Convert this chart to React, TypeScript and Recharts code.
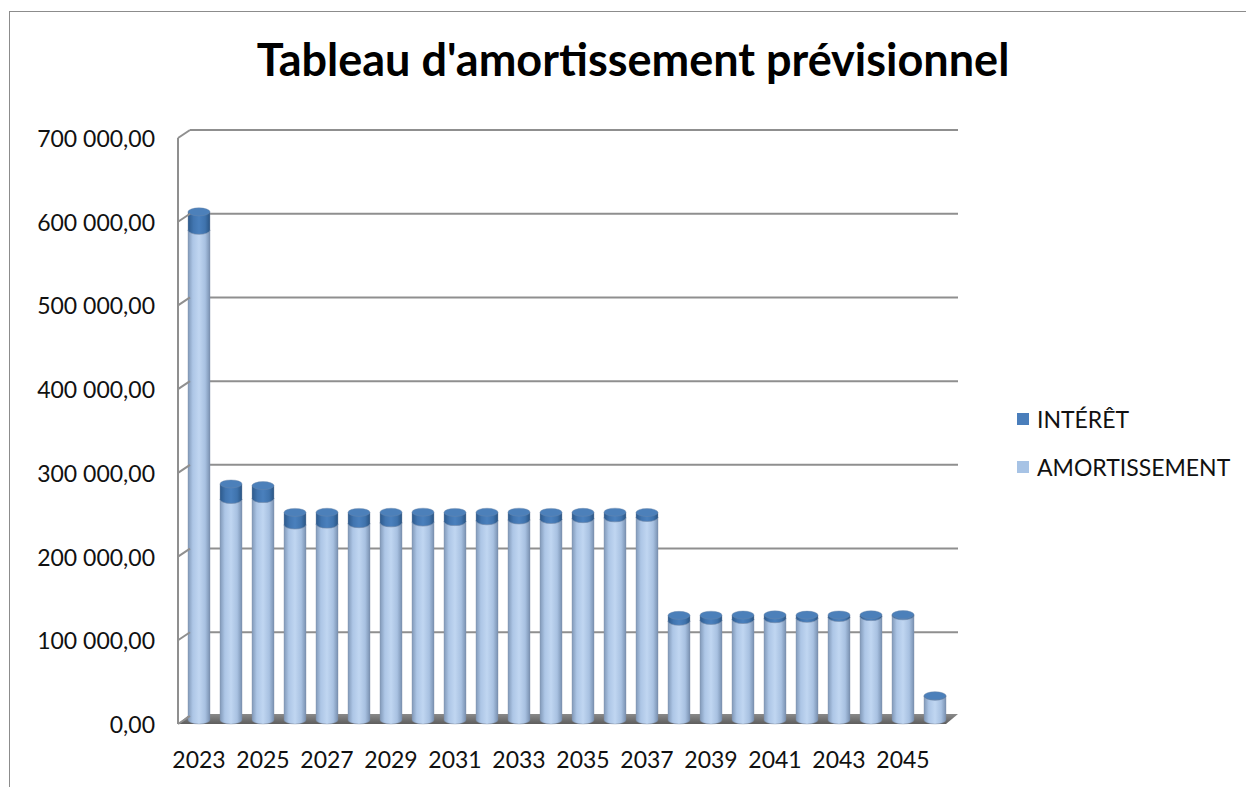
import React from 'react'
import { BarChart, Bar, XAxis, YAxis, CartesianGrid } from 'recharts'

const years = [
  '2023', '2024', '2025', '2026', '2027', '2028', '2029', '2030', '2031', '2032', '2033', '2034',
  '2035', '2036', '2037', '2038', '2039', '2040', '2041', '2042', '2043', '2044', '2045', '2046',
]
const amortissement = [
  585000, 263500, 264500, 233000, 234000, 234500, 235500, 236500, 237000, 238000, 239000, 239500,
  240500, 241500, 242000, 118000, 119000, 120000, 121000, 121500, 122500, 123500, 124500, 28500,
]
const interet = [
  22000, 18500, 15500, 15000, 14200, 13500, 12700, 11800, 11000, 10200, 9300, 8500,
  7600, 6800, 5900, 7000, 6200, 5400, 4600, 3800, 3000, 2200, 1400, 500,
]
const yTicks = [0, 100000, 200000, 300000, 400000, 500000, 600000, 700000]
const seriesNames = ['INTÉRÊT', 'AMORTISSEMENT']

const data = years.map((y, i) => ({ year: y, amort: amortissement[i], interet: interet[i] }))

const W = 1246
const H = 787
const PLOT_LEFT = 190
const PLOT_RIGHT = 958
const PLOT_TOP = 130
const PLOT_BOTTOM = 716
const DEPTH_X = 12
const DEPTH_Y = 8
// bars sit roughly mid-depth
const BAR_DX = -7
const BAR_DY = 4
const FONT = 'Lato, "Open Sans", sans-serif'

const fmt = (v: number) => {
  const s = Math.round(v).toString().replace(/\B(?=(\d{3})+(?!\d))/g, ' ')
  return `${s},00`
}

const makeCylinder = (grad: string, topFill: string) => (props: any) => {
  const { x, y, width, height } = props
  if (width == null || height == null) return <g />
  const x0 = x + BAR_DX
  const x1 = x0 + width
  const top = y + BAR_DY
  const bottom = y + height + BAR_DY
  const rx = width / 2
  const ry = 4
  return (
    <g>
      <path
        d={`M${x0},${top} L${x0},${bottom} A${rx},${ry} 0 0 0 ${x1},${bottom} L${x1},${top} Z`}
        fill={`url(#${grad})`}
        stroke="#7d8ea6"
        strokeWidth={0.4}
      />
      <ellipse cx={x0 + rx} cy={top} rx={rx} ry={ry} fill={topFill} stroke="#6f88a8" strokeWidth={0.4} />
    </g>
  )
}

const AmortShape = makeCylinder('gradAmort', '#c3d7ef')
const InteretShape = makeCylinder('gradInteret', '#4c80ba')

const YTick = ({ y, payload }: any) => (
  <g>
    <line x1={PLOT_LEFT - DEPTH_X} y1={y + DEPTH_Y} x2={PLOT_LEFT} y2={y} stroke="#8f8f8f" strokeWidth={2} />
    <text
      x={PLOT_LEFT - 35}
      y={y + 8}
      textAnchor="end"
      dominantBaseline="central"
      fill="#111"
      fontSize={23}
      fontFamily={FONT}
    >
      {fmt(payload.value)}
    </text>
  </g>
)

const XTick = ({ x, y, payload }: any) => (
  <text x={x + BAR_DX} y={y + 44} textAnchor="middle" fill="#111" fontSize={23} fontFamily={FONT}>
    {payload.value}
  </text>
)

export default function App() {
  return (
    <div
      style={{
        position: 'absolute',
        left: 0,
        top: 0,
        width: W,
        height: H,
        overflow: 'hidden',
        background: '#fff',
        fontFamily: FONT,
      }}
    >
      {/* chart frame */}
      <div style={{ position: 'absolute', left: 9, top: 11, width: 1400, height: 1000, border: '1px solid #8c8c8c' }} />

      {/* title */}
      <div
        style={{
          position: 'absolute',
          left: 0,
          width: 1266,
          top: 32,
          textAlign: 'center',
          fontSize: 45,
          fontWeight: 700,
          color: '#000',
        }}
      >
        Tableau d'amortissement prévisionnel
      </div>

      {/* 3D floor and side wall */}
      <svg width={W} height={H} style={{ position: 'absolute', left: 0, top: 0 }}>
        <defs>
          <linearGradient id="floorGrad" x1="0" y1="0" x2="0" y2="1">
            <stop offset="0%" stopColor="#8a8a8a" />
            <stop offset="100%" stopColor="#5e5e5e" />
          </linearGradient>
        </defs>
        <polygon
          points={`${PLOT_LEFT - DEPTH_X},${PLOT_BOTTOM + DEPTH_Y} ${PLOT_RIGHT - DEPTH_X},${PLOT_BOTTOM + DEPTH_Y} ${PLOT_RIGHT},${PLOT_BOTTOM - 2} ${PLOT_LEFT},${PLOT_BOTTOM - 2}`}
          fill="url(#floorGrad)"
        />
        <line
          x1={PLOT_LEFT - DEPTH_X}
          y1={PLOT_TOP + DEPTH_Y}
          x2={PLOT_LEFT - DEPTH_X}
          y2={PLOT_BOTTOM + DEPTH_Y}
          stroke="#8f8f8f"
          strokeWidth={2}
        />
      </svg>

      <div style={{ position: 'absolute', left: 0, top: 0 }}>
        <BarChart
          width={W}
          height={H}
          data={data}
          margin={{ top: PLOT_TOP, right: W - PLOT_RIGHT, bottom: H - PLOT_BOTTOM - 40, left: 0 }}
          barSize={22}
        >
          <defs>
            <linearGradient id="gradAmort" x1="0" y1="0" x2="1" y2="0">
              <stop offset="0%" stopColor="#8199b8" />
              <stop offset="22%" stopColor="#adc6e6" />
              <stop offset="50%" stopColor="#c0d6f1" />
              <stop offset="78%" stopColor="#a8c1e1" />
              <stop offset="100%" stopColor="#7890b0" />
            </linearGradient>
            <linearGradient id="gradInteret" x1="0" y1="0" x2="1" y2="0">
              <stop offset="0%" stopColor="#2d5a8c" />
              <stop offset="25%" stopColor="#4175b0" />
              <stop offset="50%" stopColor="#4a80bd" />
              <stop offset="78%" stopColor="#3f73ad" />
              <stop offset="100%" stopColor="#2a5583" />
            </linearGradient>
          </defs>
          <CartesianGrid
            vertical={false}
            horizontalValues={yTicks.slice(1)}
            stroke="#8f8f8f"
            strokeWidth={2}
            strokeDasharray=""
          />
          <XAxis
            dataKey="year"
            height={40}
            interval={1}
            axisLine={false}
            tickLine={false}
            tick={<XTick />}
          />
          <YAxis
            width={PLOT_LEFT}
            domain={[0, 700000]}
            ticks={yTicks}
            axisLine={false}
            tickLine={false}
            tick={<YTick />}
          />
          <Bar dataKey="amort" name={seriesNames[1]} stackId="a" shape={AmortShape} isAnimationActive={false} />
          <Bar dataKey="interet" name={seriesNames[0]} stackId="a" shape={InteretShape} isAnimationActive={false} />
        </BarChart>
      </div>

      {/* legend */}
      <div style={{ position: 'absolute', left: 1017, top: 403, fontSize: 23, color: '#111' }}>
        {[
          { name: seriesNames[0], color: '#4a7ebb' },
          { name: seriesNames[1], color: '#a7c3e5' },
        ].map((s, i) => (
          <div key={i} style={{ display: 'flex', alignItems: 'center', height: 32, marginBottom: i === 0 ? 16 : 0 }}>
            <span style={{ display: 'inline-block', width: 12, height: 12, background: s.color, marginRight: 8 }} />
            <span>{s.name}</span>
          </div>
        ))}
      </div>
    </div>
  )
}
